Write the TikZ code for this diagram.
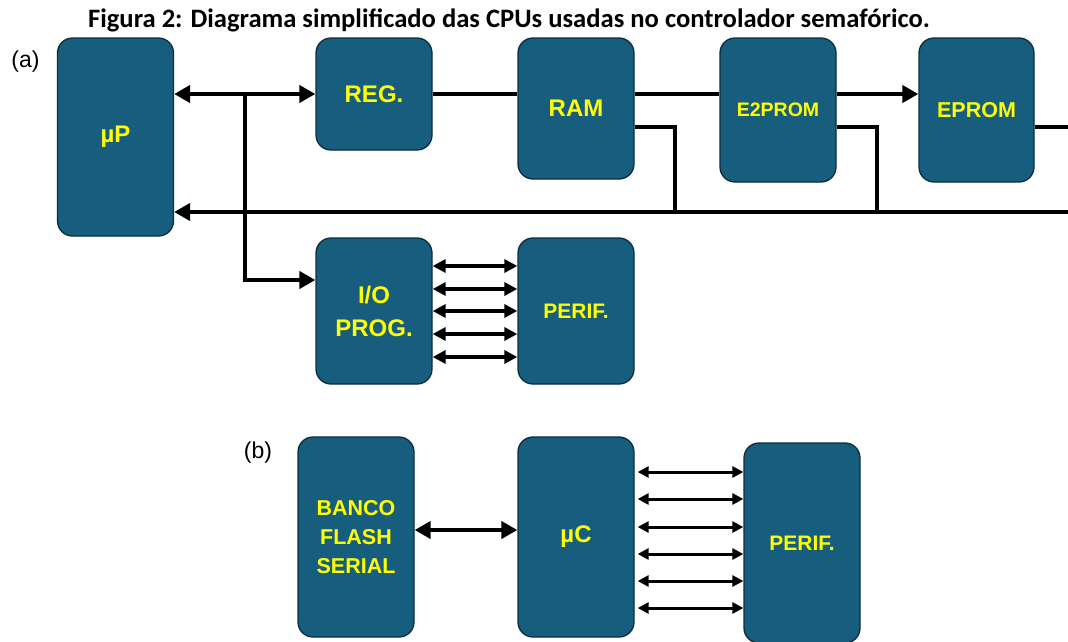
\documentclass[tikz,border=0pt]{standalone}
\usepackage{fontspec}
\setmainfont{Liberation Sans}
\newfontfamily\titlefont{Carlito}
\usetikzlibrary{arrows.meta}
\definecolor{boxfill}{RGB}{23,94,126}
\definecolor{boxline}{RGB}{12,45,62}
\definecolor{boxtext}{RGB}{255,255,0}
\tikzset{
  blk/.style={draw=boxline, line width=1.3pt, fill=boxfill, rounded corners=15pt,
    minimum width=116pt, text=boxtext, font=\bfseries\fontsize{24}{28}\selectfont,
    align=center, inner sep=0pt},
  bus/.style={line width=4.5pt},
  bigtip/.style={-{Triangle[length=16pt,width=17pt]}},
  bigtips/.style={{Triangle[length=16pt,width=17pt]}-{Triangle[length=16pt,width=17pt]}},
  midarrow/.style={line width=4pt, {Triangle[length=13pt,width=13pt]}-{Triangle[length=13pt,width=13pt]}},
  thinarrow/.style={line width=3pt, {Triangle[length=11pt,width=11pt]}-{Triangle[length=11pt,width=11pt]}},
  lbl/.style={font=\fontsize{23}{26}\selectfont, inner sep=0pt}
}
\begin{document}
\begin{tikzpicture}[x=1pt,y=-1pt]
\useasboundingbox[fill=white] (0,0) rectangle (1068,641);

% title and labels
\node[anchor=base, inner sep=0pt, font=\titlefont\bfseries\fontsize{26.6}{30}\selectfont] (title) at (509,27)
  {Figura 2: Diagrama simplificado das CPUs usadas no controlador semafórico.};
\node[lbl] (la) at (25.5,61.5) {(a)};
\node[lbl] (lb) at (258,453) {(b)};

% (a) blocks
\node[blk, minimum height=198pt] (mup) at (115.5,137) {\raisebox{-3pt}{µP}};
\node[blk, minimum height=112pt] (reg) at (374,94) {REG.};
\node[blk, minimum height=141pt] (ram) at (576,108.5) {RAM};
\node[blk, minimum height=144pt, font=\bfseries\fontsize{19.5}{24}\selectfont] (e2) at (778,110) {E2PROM};
\node[blk, minimum height=144pt, minimum width=115pt, font=\bfseries\fontsize{21.5}{26}\selectfont] (eprom) at (976.5,110) {EPROM};
\node[blk, minimum height=146pt, font=\bfseries\fontsize{24}{33}\selectfont] (io) at (374,311) {I/O\\PROG.};
\node[blk, minimum height=146pt, font=\bfseries\fontsize{21}{26}\selectfont] (perifa) at (576,311) {PERIF.};

% (b) blocks
\node[blk, minimum height=200pt, font=\bfseries\fontsize{21.5}{29}\selectfont] (banco) at (356,537) {BANCO\\FLASH\\SERIAL};
\node[blk, minimum height=200pt] (uc) at (576,537) {µC};
\node[blk, minimum height=200pt, font=\bfseries\fontsize{21}{26}\selectfont] (perifb) at (802,543) {PERIF.};

% coordinates
\coordinate (j1) at (245,94);
\coordinate (ramdrop) at (675,212);
\coordinate (e2drop) at (877,212);
\coordinate (busR) at (1068,212);
\coordinate (epR) at (1068,127);

% (a) connections
\draw[bus, bigtips] (mup.east |- reg.west) -- (reg.west);
\draw[bus, bigtip] (j1) |- ([yshift=31pt]io.west);
\draw[bus] (reg.east) -- (reg.east -| ram.west);
\draw[bus] (ram.east |- reg.east) -- (e2.west |- reg.east);
\draw[bus, bigtip] (e2.east |- reg.east) -- (eprom.west |- reg.east);
\draw[bus] ([yshift=-18.5pt]ram.east) -| (ramdrop);
\draw[bus] ([yshift=-17pt]e2.east) -| (e2drop);
\draw[bus] ([yshift=-17pt]eprom.east) -- (epR);
\draw[bus, bigtip] (busR) -- (busR -| mup.east);

\foreach \s in {45,22,0,-23,-46} {
  \path ([yshift=\s pt]perifa.west) coordinate (pa);
  \draw[midarrow] (io.east |- pa) -- (pa);
}

% (b) connections
\draw[bus, bigtips] ([yshift=7pt]banco.east) -- ([yshift=7pt]uc.west);
\foreach \s in {71,44,16,-11,-38,-65} {
  \path ([yshift=\s pt]perifb.west) coordinate (pb);
  \draw[thinarrow, shorten <=3pt] (uc.east |- pb) -- (pb);
}
\end{tikzpicture}
\end{document}
